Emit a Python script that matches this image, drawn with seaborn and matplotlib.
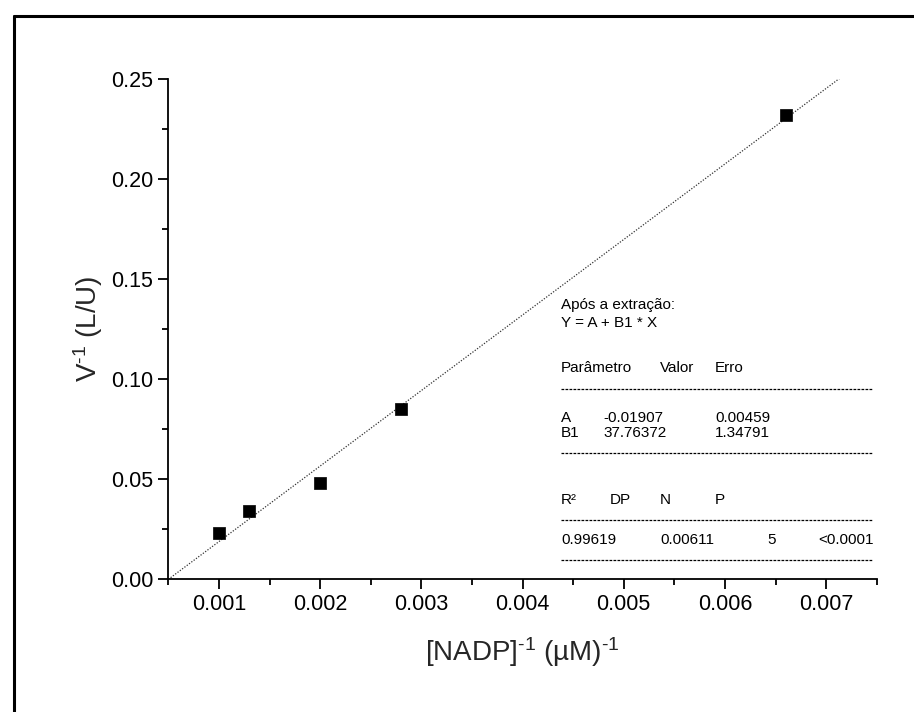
import numpy as np
import pandas as pd
import matplotlib
matplotlib.use("Agg")
import matplotlib.pyplot as plt
from matplotlib.lines import Line2D
from matplotlib.ticker import MultipleLocator, FormatStrFormatter
import seaborn as sns

# Lineweaver-Burk data: inverse substrate concentration vs inverse velocity
inv_nadp = [0.0010, 0.0013, 0.0020, 0.0028, 0.0066]
inv_v = [0.023, 0.034, 0.048, 0.085, 0.232]

# Linear fit results
fit_A = -0.01907
fit_A_err = 0.00459
fit_B1 = 37.76372
fit_B1_err = 1.34791
fit_R2 = 0.99619
fit_DP = 0.00611
fit_N = 5
fit_P = "<0.0001"

x_limits = [0.0005, 0.0075]
y_limits = [0.0, 0.25]
x_tick_values = [0.001, 0.002, 0.003, 0.004, 0.005, 0.006, 0.007]

sns.set_style("ticks")
plt.rcParams["font.family"] = ["Liberation Sans", "DejaVu Sans"]
plt.rcParams["mathtext.fontset"] = "custom"
plt.rcParams["mathtext.rm"] = "Liberation Sans"
plt.rcParams["mathtext.it"] = "Liberation Sans"
plt.rcParams["mathtext.default"] = "rm"

W, H = 914, 712
fig = plt.figure(figsize=(W / 100, H / 100), dpi=100)
fig.patch.set_facecolor("white")

ax_l, ax_r, ax_t, ax_b = 168.3, 876.7, 79.0, 579.0
ax = fig.add_axes([ax_l / W, 1 - ax_b / H, (ax_r - ax_l) / W, (ax_b - ax_t) / H])
ax.set_facecolor("white")

df = pd.DataFrame({"x": inv_nadp, "y": inv_v})

# fitted straight line across the x range
fit_df = pd.DataFrame({"x": x_limits})
fit_df["y"] = fit_A + fit_B1 * fit_df["x"]
sns.lineplot(data=fit_df, x="x", y="y", ax=ax, color="#333333",
             linestyle=(0, (1, 1.3)), linewidth=0.9, zorder=2)

sns.scatterplot(data=df, x="x", y="y", ax=ax, marker="s", s=70,
                color="black", edgecolor="black", linewidth=0.5, zorder=3)

ax.set_xlim(*x_limits)
ax.set_ylim(*y_limits)

ax.set_xticks(x_tick_values)
ax.set_xticklabels([f"{t:.3f}" for t in x_tick_values])
ax.xaxis.set_minor_locator(MultipleLocator(0.0005))
ax.yaxis.set_major_locator(MultipleLocator(0.05))
ax.yaxis.set_minor_locator(MultipleLocator(0.025))
ax.yaxis.set_major_formatter(FormatStrFormatter("%.2f"))

for side in ["top", "right"]:
    ax.spines[side].set_visible(False)
for side in ["left", "bottom"]:
    ax.spines[side].set_linewidth(1.3)
    ax.spines[side].set_color("black")

ax.tick_params(axis="both", which="major", direction="out", length=7,
               width=1.3, labelsize=15.5, pad=4, colors="black")
ax.tick_params(axis="both", which="minor", direction="out", length=4.5,
               width=1.3, colors="black")

ax.set_xlabel("[NADP]$^{\\text{-1}}$ (\u00b5M)$^{\\text{-1}}$", fontsize=20, labelpad=14)
ax.set_ylabel("V$^{\\text{-1}}$ (L/U)", fontsize=20, labelpad=4)

# fit results box
def fx(px):
    return (px - ax_l) / (ax_r - ax_l)

def fy(py):
    return (ax_b - py) / (ax_b - ax_t)

tfont = dict(family=["Liberation Sans", "DejaVu Sans"], fontsize=11,
             color="black", va="center", ha="left", transform=ax.transAxes)

ax.text(fx(561), fy(305), "Após a extração:", **tfont)
ax.text(fx(561), fy(323), "Y = A + B1 * X", **tfont)

ax.text(fx(561), fy(368), "Parâmetro", **tfont)
ax.text(fx(660), fy(368), "Valor", **tfont)
ax.text(fx(715), fy(368), "Erro", **tfont)

ax.text(fx(561), fy(418), "A", **tfont)
ax.text(fx(603), fy(418), f"{fit_A:.5f}", **tfont)
ax.text(fx(715), fy(418), f"{fit_A_err:.5f}", **tfont)
ax.text(fx(561), fy(433), "B1", **tfont)
ax.text(fx(603), fy(433), f"{fit_B1:.5f}", **tfont)
ax.text(fx(715), fy(433), f"{fit_B1_err:.5f}", **tfont)

ax.text(fx(561), fy(500), "R\u00b2", **tfont)
ax.text(fx(610), fy(500), "DP", **tfont)
ax.text(fx(660), fy(500), "N", **tfont)
ax.text(fx(715), fy(500), "P", **tfont)

ax.text(fx(561), fy(540), f"{fit_R2:.5f}", **tfont)
ax.text(fx(660), fy(540), f"{fit_DP:.5f}", **tfont)
ax.text(fx(767), fy(540), f"{fit_N}", **tfont)
ax.text(fx(818), fy(540), fit_P, **tfont)

for py in [389, 453, 520, 560]:
    ax.plot([fx(561), fx(872)], [fy(py), fy(py)], transform=ax.transAxes,
            color="black", linewidth=0.9, linestyle=(0, (2.2, 1.0)),
            clip_on=False)

# outer frame (top and left edges)
fig.add_artist(Line2D([13.5 / W, 1.0], [1 - 15.5 / H, 1 - 15.5 / H],
                      transform=fig.transFigure, color="black", linewidth=2.2))
fig.add_artist(Line2D([13.5 / W, 13.5 / W], [0.0, 1 - 15.5 / H],
                      transform=fig.transFigure, color="black", linewidth=2.2))

fig.savefig("out.png", dpi=100, facecolor="white")
